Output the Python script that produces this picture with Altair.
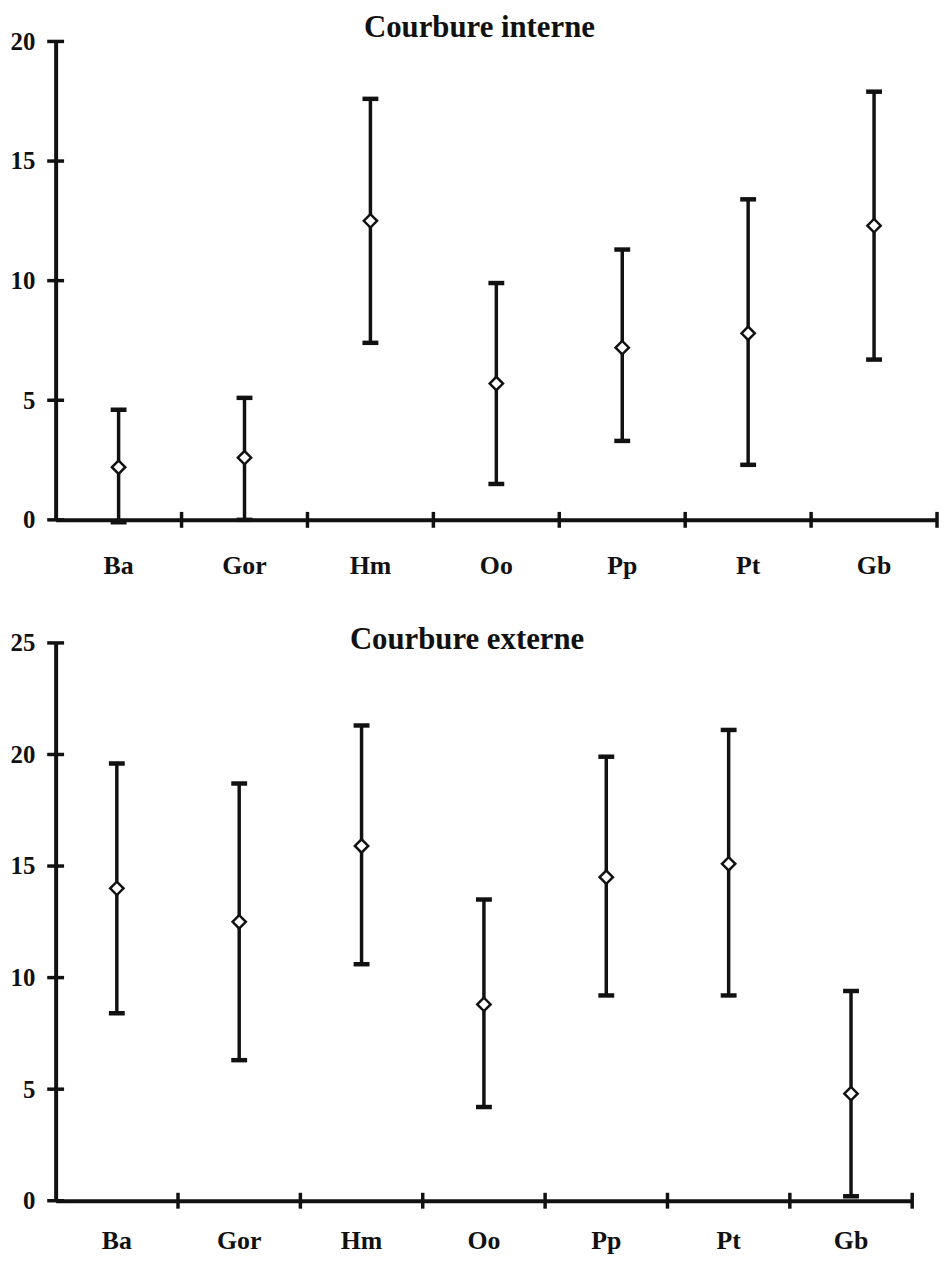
import altair as alt
import pandas as pd

cats = ["Ba", "Gor", "Hm", "Oo", "Pp", "Pt", "Gb"]

int_mean = [2.2, 2.6, 12.5, 5.7, 7.2, 7.8, 12.3]
int_low = [-0.1, 0.0, 7.4, 1.5, 3.3, 2.3, 6.7]
int_high = [4.6, 5.1, 17.6, 9.9, 11.3, 13.4, 17.9]

ext_mean = [14.0, 12.5, 15.9, 8.8, 14.5, 15.1, 4.8]
ext_low = [8.4, 6.3, 10.6, 4.2, 9.2, 9.2, 0.2]
ext_high = [19.6, 18.7, 21.3, 13.5, 19.9, 21.1, 9.4]

int_ticks = [0, 5, 10, 15, 20]
ext_ticks = [0, 5, 10, 15, 20, 25]

FONT = "Liberation Serif"
INK = "#111111"


def panel(title, mean, low, high, yticks, width, height, title_offset, xlab_pad, ylab_pad):
    df = pd.DataFrame({"cat": cats, "mean": mean, "low": low, "high": high})
    ymax = yticks[-1]
    xscale = alt.Scale(type="band", domain=cats, paddingInner=0, paddingOuter=0)
    yscale = alt.Scale(domain=[0, ymax], nice=False, zero=True)
    xenc = alt.X(
        "cat:N",
        scale=xscale,
        title=None,
        axis=alt.Axis(
            ticks=False, tickSize=0, grid=False, labelAngle=0,
            labelFont=FONT, labelFontSize=26, labelFontWeight="bold", labelColor=INK,
            labelPadding=xlab_pad, domainColor=INK, domainWidth=4,
        ),
    )
    yaxis = alt.Axis(
        values=yticks, ticks=False, tickSize=0, grid=False,
        labelFont=FONT, labelFontSize=25, labelFontWeight="bold", labelColor=INK,
        labelPadding=ylab_pad, domainColor=INK, domainWidth=4,
    )
    base = alt.Chart(df)
    bars = base.mark_rule(color=INK, strokeWidth=3.5).encode(
        x=xenc,
        y=alt.Y("low:Q", scale=yscale, axis=yaxis, title=None),
        y2="high:Q",
    )
    caps_hi = base.mark_tick(color=INK, size=16, thickness=4.5, orient="horizontal", opacity=1).encode(
        x=alt.X("cat:N", scale=xscale), y=alt.Y("high:Q", scale=yscale)
    )
    caps_lo = base.mark_tick(color=INK, size=16, thickness=4.5, orient="horizontal", opacity=1).encode(
        x=alt.X("cat:N", scale=xscale), y=alt.Y("low:Q", scale=yscale)
    )
    pts = base.mark_point(
        shape="diamond", size=180, filled=True, fill="white", stroke=INK, strokeWidth=2.5, opacity=1
    ).encode(x=alt.X("cat:N", scale=xscale), y=alt.Y("mean:Q", scale=yscale))

    yt = alt.Chart(pd.DataFrame({"v": yticks})).mark_tick(
        color=INK, size=17, thickness=3.5, orient="horizontal", opacity=1
    ).encode(y=alt.Y("v:Q", scale=yscale), x=alt.value(0))
    xt = alt.Chart(pd.DataFrame({"cat": cats})).mark_tick(
        color=INK, size=16, thickness=3.5, orient="vertical", opacity=1
    ).encode(x=alt.X("cat:N", scale=xscale, bandPosition=1), y=alt.YDatum(0))

    return alt.layer(bars, caps_hi, caps_lo, pts, yt, xt).properties(
        width=width,
        height=height,
        title=alt.TitleParams(
            title, font=FONT, fontSize=31, fontWeight="bold", color=INK,
            anchor="middle", offset=title_offset, dx=-17,
        ),
    )


top = panel("Courbure interne", int_mean, int_low, int_high, int_ticks, 888, 482, -15, 33, 21)
bottom = panel("Courbure externe", ext_mean, ext_low, ext_high, ext_ticks, 863, 562, -25, 27, 21)

chart = alt.concat(top, bottom, columns=1, spacing=46).properties(
    padding={"left": 2, "top": 0, "right": 0, "bottom": 0},
    background="white",
).configure_view(stroke=None)

chart.save("out.html", embed_options={"renderer": "svg", "actions": False})
